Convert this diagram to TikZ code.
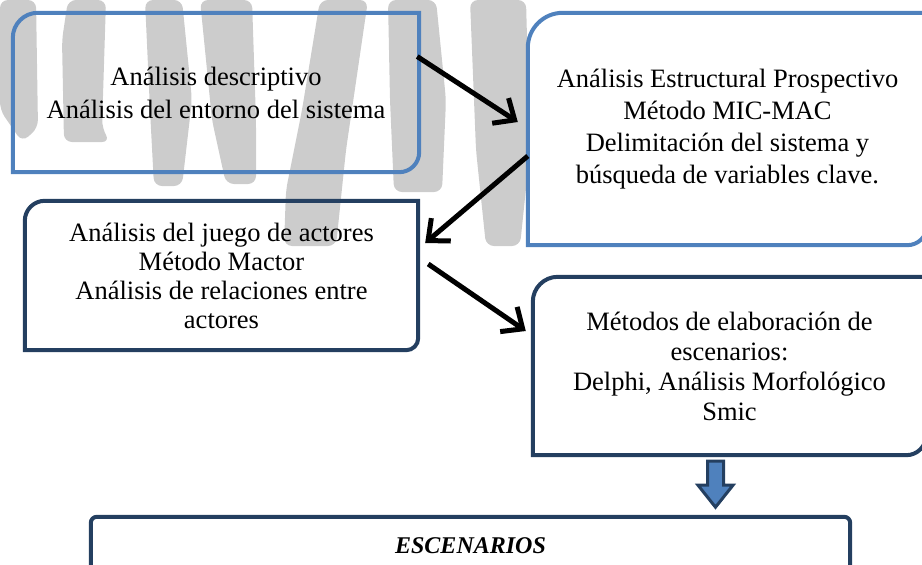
\documentclass[tikz,border=0pt]{standalone}
\usepackage{fontspec}
\setmainfont{Liberation Serif}
\usetikzlibrary{arrows.meta}
\definecolor{boxblue}{HTML}{4F81BD}
\definecolor{boxnavy}{HTML}{243F60}
\definecolor{markgray}{HTML}{CCCCCC}
\tikzset{
  stage/.style={inner sep=0pt, align=center, font=\fontsize{26.5}{30}\selectfont},
  light frame/.style={draw=boxblue, line width=4pt},
  dark frame/.style={draw=boxnavy, line width=4pt},
  flow/.style={line width=5pt, -{Straight Barb[length=17pt,width=30pt]}},
  down arrow/.style={fill=boxblue, draw=boxnavy, line width=3pt, line join=miter},
  watermark/.style={fill=markgray, draw=none, rounded corners=8pt},
}
% frame with round top left and bottom right corners
\newcommand\stageframe[4]{%
  \draw[#4] (#1.north east) -- ([xshift=#2pt]#1.north west)
    arc[start angle=90, end angle=180, radius=#2pt] -- (#1.south west)
    -- ([xshift=-#3pt]#1.south east)
    arc[start angle=270, end angle=360, radius=#3pt] -- cycle;}

\begin{document}
\begin{tikzpicture}[x=1pt,y=1pt]
  \useasboundingbox (0,0) rectangle (922,-565);
  \clip (0,0) rectangle (922,-565);

  % background marks
  \fill[watermark] (0,0) -- (36,0) -- (38,-128) -- (22,-142) -- (0,-110) -- cycle;
  \fill[watermark] (68,0) -- (106,0) -- (102,-128) -- (110,-142) -- (64,-142) -- (62,-40) -- cycle;
  \fill[watermark] (145,0) -- (182,0) -- (192,-100) -- (182,-186) -- (154,-186) -- (150,-110) -- cycle;
  \fill[watermark] (200,0) -- (252,0) -- (256,-120) -- (256,-184) -- (226,-184) -- (212,-120) -- cycle;
  \fill[watermark] (320,0) -- (368,0) -- (346,-150) -- (336,-246) -- (284,-246) -- (286,-190) -- (302,-110) -- cycle;
  \fill[watermark] (388,0) -- (436,0) -- (446,-100) -- (442,-192) -- (394,-192) -- (390,-100) -- cycle;
  \fill[watermark] (470,0) -- (526,0) -- (530,-150) -- (520,-246) -- (486,-246) -- (476,-150) -- cycle;

  \node[stage, minimum width=406pt, minimum height=159pt, font=\fontsize{26.5}{33}\selectfont]
    (desc) at (216,-92.5) {Análisis descriptivo\\Análisis del entorno del sistema};
  \node[stage, minimum width=399pt, minimum height=232pt, font=\fontsize{26.5}{32}\selectfont]
    (micmac) at (727.5,-129) {Análisis Estructural Prospectivo\\Método MIC-MAC\\Delimitación del sistema y\\búsqueda de variables clave.};
  \node[stage, minimum width=393pt, minimum height=149pt, font=\fontsize{26.5}{29}\selectfont]
    (mactor) at (221.5,-275.5) {Análisis del juego de actores\\Método Mactor\\Análisis de relaciones entre\\actores};
  \node[stage, minimum width=393pt, minimum height=178pt]
    (metodos) at (729.5,-366) {Métodos de elaboración de\\escenarios:\\Delphi, Análisis Morfológico\\Smic};
  \node[stage, minimum width=759pt, minimum height=58pt, font=\fontsize{24}{28}\selectfont\bfseries\itshape]
    (escen) at (470.5,-546) {ESCENARIOS};

  \stageframe{desc}{25}{20}{light frame}
  \stageframe{micmac}{35}{20}{light frame}
  \stageframe{mactor}{20}{12}{dark frame}
  \stageframe{metodos}{25}{20}{dark frame}
  \draw[dark frame, rounded corners=6pt] (escen.south west) rectangle (escen.north east);

  \draw[flow] ([xshift=-2pt,yshift=36pt]desc.east) -- ([xshift=-10pt,yshift=7pt]micmac.west);
  \draw[flow] ([yshift=-27pt]micmac.west) -- ([xshift=7pt,yshift=32.5pt]mactor.east);
  \draw[flow] ([xshift=10pt,yshift=11.5pt]mactor.east) -- ([xshift=-7pt,yshift=35pt]metodos.west);

  \coordinate (drop) at ([xshift=-14pt,yshift=-6pt]metodos.south);
  \draw[down arrow] ([xshift=-8pt]drop) -- ++(16,0) -- ++(0,-24) -- ++(9.5,0)
    -- ++(-17.5,-22) -- ++(-17.5,22) -- ++(9.5,0) -- cycle;
\end{tikzpicture}
\end{document}
